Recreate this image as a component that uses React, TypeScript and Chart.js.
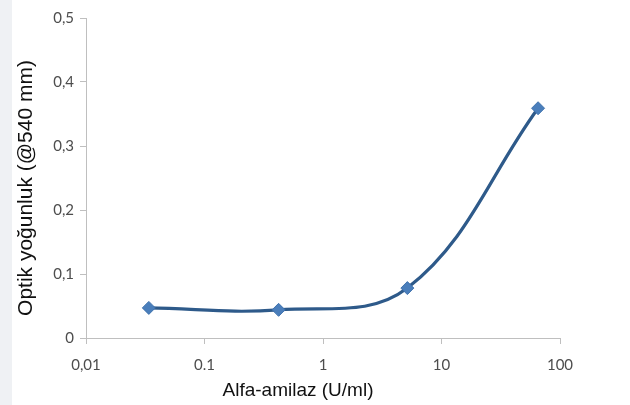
import React, { useEffect, useRef } from "react";
import { Chart, registerables } from "chart.js";

Chart.register(...registerables);

const concentrations = [0.0339, 0.422, 5.15, 65.3];
const absorbance = [0.047, 0.044, 0.078, 0.359];
const xTickValues = [0.01, 0.1, 1, 10, 100];
const xTickLabels = ["0,01", "0.1", "1", "10", "100"];
const yTickValues = [0, 0.1, 0.2, 0.3, 0.4, 0.5];
const yTickLabels = ["0", "0,1", "0,2", "0,3", "0,4", "0,5"];
const xTitle = "Alfa-amilaz (U/ml)";
const yTitle = "Optik yoğunluk (@540 mm)";

const axisTitles = {
  id: "axisTitles",
  afterDraw(chart: any) {
    const ctx = chart.ctx;
    ctx.save();
    ctx.fillStyle = "#111111";
    ctx.textAlign = "center";
    ctx.textBaseline = "middle";
    ctx.font = '19px "Liberation Sans", Arial, sans-serif';
    ctx.fillText(xTitle, 298, 391);
    ctx.translate(26, 188);
    ctx.rotate(-Math.PI / 2);
    ctx.font = '21px "Liberation Sans", Arial, sans-serif';
    ctx.fillText(yTitle, 0, 0);
    ctx.restore();
  },
};

export default function App() {
  const ref = useRef<HTMLCanvasElement>(null);
  useEffect(() => {
    if (!ref.current) return;
    const tickFont = { family: "Lato", size: 15 };
    const chart = new Chart(ref.current, {
      type: "line",
      data: {
        datasets: [
          {
            data: concentrations.map((x, i) => ({ x, y: absorbance[i] })),
            borderColor: "#2e5a8a",
            borderWidth: 3.2,
            tension: 0.38,
            pointStyle: "rectRot",
            pointRadius: 6.5,
            pointBackgroundColor: "#4a7ebb",
            pointBorderColor: "#3f72ad",
            pointBorderWidth: 1,
            fill: false,
          },
        ],
      },
      options: {
        responsive: false,
        animation: false,
        layout: { padding: { left: 0, top: 18, right: 70, bottom: 0 } },
        plugins: { legend: { display: false }, tooltip: { enabled: false } },
        scales: {
          x: {
            type: "logarithmic",
            min: 0.01,
            max: 100,
            afterBuildTicks: (s: any) => {
              s.ticks = xTickValues.map((v) => ({ value: v }));
            },
            afterFit: (s: any) => {
              s.height = 67;
            },
            ticks: {
              callback: (v: any) => xTickLabels[xTickValues.indexOf(Number(v))] ?? "",
              color: "#4d4d4d",
              font: tickFont,
              padding: 12,
              autoSkip: false,
              maxRotation: 0,
            },
            grid: { display: true, drawOnChartArea: false, drawTicks: true, tickLength: 6, color: "#bfbfbf" },
            border: { display: true, color: "#bfbfbf", width: 1 },
          },
          y: {
            type: "linear",
            min: 0,
            max: 0.5,
            afterBuildTicks: (s: any) => {
              s.ticks = yTickValues.map((v) => ({ value: v }));
            },
            afterFit: (s: any) => {
              s.width = 86;
            },
            ticks: {
              callback: (v: any) => {
                const i = yTickValues.findIndex((t) => Math.abs(t - Number(v)) < 1e-9);
                return i >= 0 ? yTickLabels[i] : "";
              },
              color: "#4d4d4d",
              font: tickFont,
              padding: 6,
            },
            grid: { display: true, drawOnChartArea: false, drawTicks: true, tickLength: 6, color: "#bfbfbf" },
            border: { display: true, color: "#bfbfbf", width: 1 },
          },
        },
      },
      plugins: [axisTitles],
    });
    return () => chart.destroy();
  }, []);
  return (
    <div
      style={{
        position: "absolute",
        left: 0,
        top: 0,
        width: 630,
        height: 405,
        background: "linear-gradient(to right, #eff1f4 0px, #eff1f4 12px, #ffffff 12px)",
      }}
    >
      <canvas ref={ref} width={630} height={405} style={{ display: "block" }} />
    </div>
  );
}
